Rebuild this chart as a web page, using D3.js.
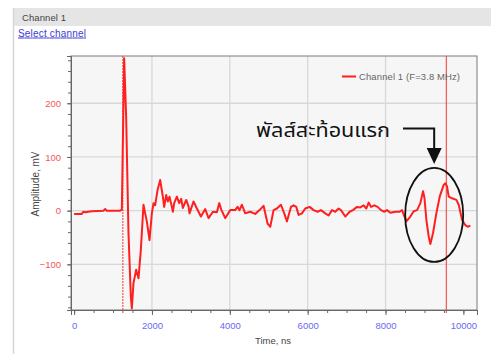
<!DOCTYPE html>
<html>
<head>
<meta charset="utf-8">
<script src="https://cdn.jsdelivr.net/npm/d3@7"></script>
<style>
  html, body { margin: 0; padding: 0; background: #fff; }
  svg { display: block; }
</style>
</head>
<body>
<svg id="chart" width="491" height="354"></svg>
<script>
// Waveform samples: time (ns) and amplitude (mV)
const timeNs = [
  0, 197, 240, 300, 360, 455, 754, 797, 840, 1183, 1226, 1285, 1337, 1397, 1457, 1483,
  1525, 1594, 1654, 1714, 1782, 1825, 1868, 1937, 1997, 2040, 2082, 2142, 2211, 2280,
  2314, 2365, 2408, 2451, 2511, 2537, 2571, 2640, 2700, 2751, 2794, 2880, 2940, 2965,
  3067, 3154, 3257, 3368, 3454, 3565, 3668, 3728, 3780, 3882, 4010, 4140, 4198, 4250,
  4310, 4396, 4524, 4653, 4764, 4867, 4970, 5039, 5124, 5210, 5313, 5398, 5467, 5570,
  5638, 5707, 5767, 5853, 5938, 6050, 6153, 6256, 6341, 6453, 6538, 6624, 6710, 6795,
  6855, 6967, 7078, 7164, 7267, 7353, 7438, 7507, 7567, 7627, 7713, 7798, 7884, 7970,
  8038, 8124, 8252, 8364, 8424, 8535, 8638, 8723, 8810, 8895, 8964, 9000, 9049, 9109,
  9152, 9220, 9306, 9392, 9494, 9537, 9580, 9623, 9708, 9820, 9880, 9966, 10051, 10111,
  10180
];
const amplitudeMv = [
  -6, -6, -2, -3, -2, -1, 0, 3, 0, 0, 2, 284, 175, -42, -160, -182,
  -135, -110, -126, -73, 11, -5, -20, -55, -5, 14, 10, 38, 57, 26,
  7, 29, 17, 26, 7, -2, 14, 26, 14, 22, 5, 20, 8, -5,
  17, 4, -11, 3, -14, -2, -3, 14, 2, -14, 1, 1, 7, 1,
  11, -5, -2, -6, 1, 9, -24, -30, 1, 4, 11, -5, -20, 7,
  10, 7, -8, -5, 4, 7, 1, -2, 1, -5, -9, 1, -2, 4,
  1, -11, -2, 1, 7, 6, 10, 4, 15, 7, 10, 7, 1, -2,
  1, -4, -2, -2, 1, -20, -11, -1, 1, 14, 36, 24, -17, -48,
  -62, -42, -5, 26, 48, 51, 45, 26, 23, 20, 11, -17, -27, -30,
  -28
];

// Axis ticks
const xMajorTicks = [0, 2000, 4000, 6000, 8000, 10000];
const yMajorTicks = [-100, 0, 100, 200];
const xGridTicks = [2000, 4000, 6000, 8000];

// Vertical cursor markers (ns)
const cursorStart = 1252;
const cursorEnd = 9563;

// Texts
const tabTitle = "Channel 1";
const linkText = "Select channel";
const legendLabel = "Channel 1 (F=3.8 MHz)";
const xTitle = "Time, ns";
const yTitle = "Amplitude, mV";
const noteText = "พัลส์สะท้อนแรก";

const data = timeNs.map((t, i) => ({ t, v: amplitudeMv[i] }));

const svg = d3.select("#chart");
const font = "'Liberation Sans', Arial, sans-serif";

const plot = { left: 71, right: 477, top: 56, bottom: 310 };
const x = d3.scaleLinear().domain([-80, 10350]).range([plot.left, plot.right]);
const y = d3.scaleLinear().domain([-185, 288]).range([plot.bottom, plot.top]);

// Panel chrome: tab bar, left border, link
svg.append("rect").attr("x", 13).attr("y", 8).attr("width", 478).attr("height", 18).attr("fill", "#e5e5e5");
svg.append("line").attr("x1", 13.5).attr("x2", 13.5).attr("y1", 8).attr("y2", 354)
  .attr("stroke", "#d6d6d6").attr("stroke-width", 1.5);
svg.append("text").attr("x", 22).attr("y", 20.5).attr("font-family", font).attr("font-size", 9.5)
  .attr("fill", "#444").attr("textLength", 44).text(tabTitle);
svg.append("text").attr("x", 18).attr("y", 36.5).attr("font-family", font).attr("font-size", 10)
  .attr("fill", "#3b3bd6").attr("text-decoration", "underline").attr("textLength", 68).text(linkText);

// Plot background
svg.append("rect").attr("x", plot.left).attr("y", plot.top)
  .attr("width", plot.right - plot.left).attr("height", plot.bottom - plot.top)
  .attr("fill", "#f6f6f6");

svg.append("clipPath").attr("id", "plotclip").append("rect")
  .attr("x", plot.left).attr("y", plot.top)
  .attr("width", plot.right - plot.left).attr("height", plot.bottom - plot.top);

// Grid
const grid = svg.append("g").attr("stroke", "#d8d8d8").attr("stroke-width", 1.3);
grid.selectAll(".gx").data(xGridTicks).join("line")
  .attr("x1", d => x(d)).attr("x2", d => x(d)).attr("y1", plot.top).attr("y2", plot.bottom);
grid.selectAll(".gy").data(yMajorTicks).join("line")
  .attr("x1", plot.left).attr("x2", plot.right).attr("y1", d => y(d)).attr("y2", d => y(d));

// Cursor markers
svg.append("line").attr("x1", x(cursorStart)).attr("x2", x(cursorStart))
  .attr("y1", plot.top).attr("y2", plot.bottom + 3)
  .attr("stroke", "#ff3030").attr("stroke-width", 1).attr("stroke-dasharray", "2,1");
svg.append("line").attr("x1", x(cursorEnd)).attr("x2", x(cursorEnd))
  .attr("y1", plot.top).attr("y2", plot.bottom + 3)
  .attr("stroke", "#f04848").attr("stroke-opacity", 0.85).attr("stroke-width", 1.3);

// Waveform
const line = d3.line().x(d => x(d.t)).y(d => y(d.v)).curve(d3.curveLinear);
svg.append("path").datum(data).attr("clip-path", "url(#plotclip)")
  .attr("d", line).attr("fill", "none").attr("stroke", "#ff1f1f")
  .attr("stroke-width", 2).attr("stroke-linejoin", "round");

// Plot frame
svg.append("rect").attr("x", plot.left).attr("y", plot.top)
  .attr("width", plot.right - plot.left).attr("height", plot.bottom - plot.top)
  .attr("fill", "none").attr("stroke", "#7a7a7a").attr("stroke-width", 1);

// Axes
const xMinor = d3.range(0, 10001, 500);
const yMinor = d3.range(-180, 281, 20);

const gxMinor = svg.append("g").attr("transform", `translate(0,${plot.bottom})`)
  .call(d3.axisBottom(x).tickValues(xMinor).tickSize(3).tickFormat(""));
const gx = svg.append("g").attr("transform", `translate(0,${plot.bottom})`)
  .call(d3.axisBottom(x).tickValues(xMajorTicks).tickSize(5).tickPadding(7).tickFormat(d3.format("d")));
const gyMinor = svg.append("g").attr("transform", `translate(${plot.left},0)`)
  .call(d3.axisLeft(y).tickValues(yMinor).tickSize(3).tickFormat(""));
const gy = svg.append("g").attr("transform", `translate(${plot.left},0)`)
  .call(d3.axisLeft(y).tickValues(yMajorTicks).tickSize(4).tickPadding(6).tickFormat(d3.format("d")));

[gxMinor, gx, gyMinor, gy].forEach(g => {
  g.select(".domain").attr("stroke", "#666");
  g.selectAll(".tick line").attr("stroke", "#666");
});
gx.selectAll(".tick text").attr("font-family", font).attr("font-size", 9.5).attr("fill", "#6a6af0");
gy.selectAll(".tick text").attr("font-family", font).attr("font-size", 9.5).attr("fill", "#f05858");

// Axis titles
svg.append("text").attr("x", 273).attr("y", 344).attr("text-anchor", "middle")
  .attr("font-family", font).attr("font-size", 9.5).attr("fill", "#444").text(xTitle);
svg.append("text").attr("transform", "translate(39,184) rotate(-90)").attr("text-anchor", "middle")
  .attr("font-family", font).attr("font-size", 10).attr("fill", "#444").text(yTitle);

// Legend
svg.append("line").attr("x1", 342).attr("x2", 356).attr("y1", 76.5).attr("y2", 76.5)
  .attr("stroke", "#ff1f1f").attr("stroke-width", 2);
svg.append("text").attr("x", 359).attr("y", 79.5).attr("font-family", font).attr("font-size", 9.5)
  .attr("fill", "#666").attr("textLength", 101).text(legendLabel);

// Annotation: label, arrow and ellipse around the first echo
svg.append("text").attr("x", 256).attr("y", 137).attr("font-family", "'Noto Sans Thai', 'Noto Sans', sans-serif")
  .attr("font-size", 20).attr("fill", "#111").attr("textLength", 134)
  .attr("lengthAdjust", "spacingAndGlyphs").text(noteText);
const arrowX = x(9250);
svg.append("path")
  .attr("d", `M403,128.5 H${arrowX} V149`)
  .attr("fill", "none").attr("stroke", "#111").attr("stroke-width", 2);
svg.append("path")
  .attr("d", `M${arrowX - 7.5},148 L${arrowX + 7.5},148 L${arrowX},164 Z`)
  .attr("fill", "#111");
svg.append("ellipse").attr("cx", x(9250)).attr("cy", y(-8)).attr("rx", 29).attr("ry", 47)
  .attr("fill", "none").attr("stroke", "#111").attr("stroke-width", 1.8);
</script>
</body>
</html>
